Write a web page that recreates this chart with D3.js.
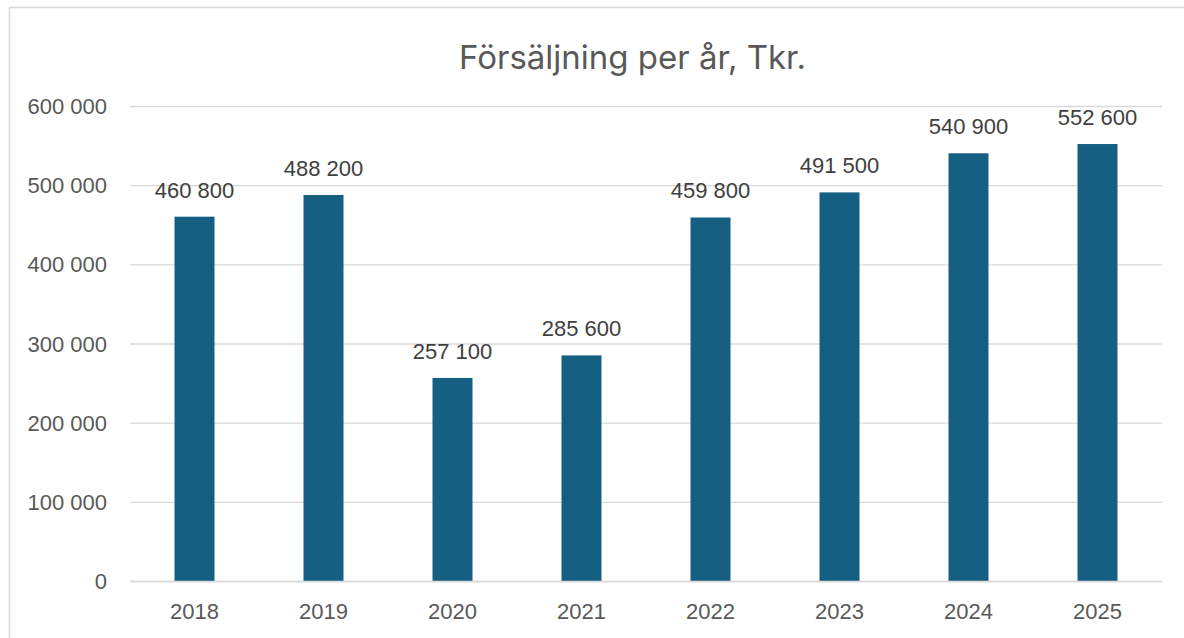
<!DOCTYPE html>
<html>
<head>
<meta charset="utf-8">
<script src="https://cdn.jsdelivr.net/npm/d3@7"></script>
<style>
  html, body { margin: 0; padding: 0; background: #fff; }
  svg { display: block; }
</style>
</head>
<body>
<div id="chart"></div>
<script>
const years = ["2018", "2019", "2020", "2021", "2022", "2023", "2024", "2025"];
const sales = [460800, 488200, 257100, 285600, 459800, 491500, 540900, 552600];
const yTicks = [0, 100000, 200000, 300000, 400000, 500000, 600000];
const title = "Försäljning per år, Tkr.";

const width = 1184, height = 638;
const margin = { left: 130, right: 22, top: 106.5, bottom: 56.5 };

const fmt = v => d3.format(",")(v).replace(/,/g, " ");

const svg = d3.select("#chart")
  .append("svg")
  .attr("width", width)
  .attr("height", height);

// chart frame
svg.append("rect")
  .attr("x", 9.5)
  .attr("y", 7.5)
  .attr("width", 1300)
  .attr("height", 800)
  .attr("fill", "none")
  .attr("stroke", "#d9d9d9")
  .attr("stroke-width", 1.5);

const x = d3.scaleBand()
  .domain(years)
  .range([margin.left, width - margin.right])
  .paddingInner(0.69)
  .paddingOuter(0.345);

const y = d3.scaleLinear()
  .domain([0, 600000])
  .range([height - margin.bottom, margin.top]);

// gridlines
svg.append("g")
  .selectAll("line")
  .data(yTicks)
  .enter()
  .append("line")
  .attr("x1", margin.left)
  .attr("x2", width - margin.right)
  .attr("y1", d => y(d))
  .attr("y2", d => y(d))
  .attr("stroke", "#d9d9d9")
  .attr("stroke-width", 1.3);

// y axis labels
const yAxis = svg.append("g")
  .attr("transform", `translate(${margin.left},0)`)
  .call(d3.axisLeft(y).tickValues(yTicks).tickFormat(fmt).tickSize(0).tickPadding(23));
yAxis.select(".domain").remove();
yAxis.selectAll("text")
  .attr("fill", "#595959")
  .style("font-family", "'Liberation Sans', Arial, sans-serif")
  .style("font-size", "22px");

// bars
svg.append("g")
  .selectAll("rect")
  .data(sales)
  .enter()
  .append("rect")
  .attr("x", (d, i) => x(years[i]))
  .attr("y", d => y(d))
  .attr("width", x.bandwidth())
  .attr("height", d => y(0) - y(d))
  .attr("fill", "#156082");

// x axis baseline over bars
svg.append("line")
  .attr("x1", margin.left)
  .attr("x2", width - margin.right)
  .attr("y1", y(0))
  .attr("y2", y(0))
  .attr("stroke", "#d9d9d9")
  .attr("stroke-width", 1.3);

// x axis labels
const xAxis = svg.append("g")
  .attr("transform", `translate(0,${y(0)})`)
  .call(d3.axisBottom(x).tickSize(0).tickPadding(22));
xAxis.select(".domain").remove();
xAxis.selectAll("text")
  .attr("fill", "#595959")
  .style("font-family", "'Liberation Sans', Arial, sans-serif")
  .style("font-size", "22px");

// data labels
svg.append("g")
  .selectAll("text")
  .data(sales)
  .enter()
  .append("text")
  .attr("x", (d, i) => x(years[i]) + x.bandwidth() / 2)
  .attr("y", d => y(d) - 19)
  .attr("text-anchor", "middle")
  .attr("fill", "#404040")
  .style("font-family", "'Liberation Sans', Arial, sans-serif")
  .style("font-size", "22px")
  .text(d => fmt(d));

// title
svg.append("text")
  .attr("x", 632.5)
  .attr("y", 68.5)
  .attr("text-anchor", "middle")
  .attr("fill", "#595959")
  .style("font-family", "Inter, 'Open Sans', sans-serif")
  .style("font-size", "33px")
  .text(title);
</script>
</body>
</html>
